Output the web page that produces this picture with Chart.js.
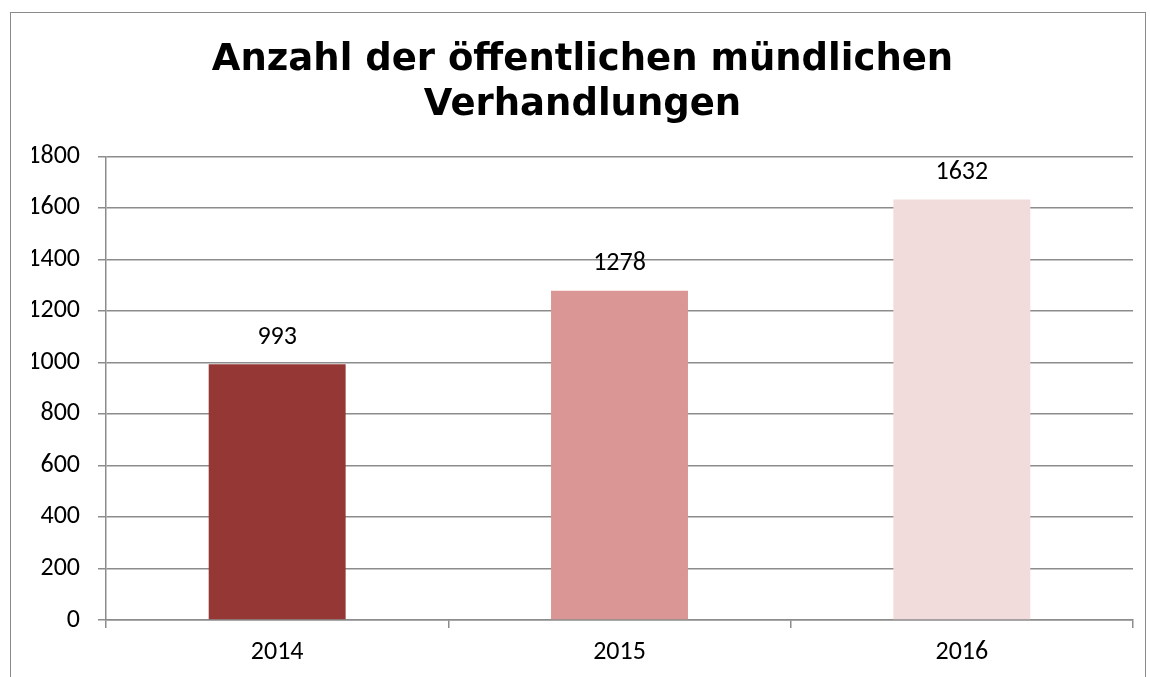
<!DOCTYPE html>
<html>
<head>
<meta charset="utf-8">
<script src="https://cdn.jsdelivr.net/npm/chart.js@4/dist/chart.umd.min.js"></script>
<style>
  html, body { margin: 0; padding: 0; background: #fff; overflow: hidden; }
  #wrap { position: relative; width: 1150px; height: 677px; }
  #frame { position: absolute; left: 10px; top: 12px; width: 1136px; height: 700px;
           border: 1.5px solid #8a8a8a; box-sizing: border-box; pointer-events: none; }
  canvas { position: absolute; left: 0; top: 0; }
</style>
</head>
<body>
<div id="wrap">
  <canvas id="c" width="1150" height="677"></canvas>
  <div id="frame"></div>
</div>
<script>
const categories = ['2014', '2015', '2016'];
const values = [993, 1278, 1632];
const barColors = ['#953735', '#D99694', '#F2DCDB'];
const titleLines = ['Anzahl der öffentlichen mündlichen', 'Verhandlungen'];

const fontFamily = 'Carlito, Lato, "Open Sans", sans-serif';
const tickFont = { family: fontFamily, size: 26 };
const gridColor = '#8c8c8c';

const valueLabels = {
  id: 'valueLabels',
  afterDatasetsDraw(chart) {
    const ctx = chart.ctx;
    const meta = chart.getDatasetMeta(0);
    ctx.save();
    ctx.font = '26px ' + fontFamily;
    ctx.fillStyle = '#000';
    ctx.textAlign = 'center';
    ctx.textBaseline = 'middle';
    meta.data.forEach((bar, i) => {
      ctx.fillText(String(chart.data.datasets[0].data[i]), bar.x, bar.y - 27);
    });
    ctx.restore();
  }
};

new Chart(document.getElementById('c'), {
  type: 'bar',
  data: {
    labels: categories,
    datasets: [{
      data: values,
      backgroundColor: barColors,
      borderWidth: 0,
      barPercentage: 0.4,
      categoryPercentage: 1.0
    }]
  },
  options: {
    responsive: false,
    animation: false,
    devicePixelRatio: 1,
    layout: { padding: { left: 32, right: 17, top: 0, bottom: 0 } },
    plugins: {
      legend: { display: false },
      tooltip: { enabled: false },
      title: {
        display: true,
        text: titleLines,
        color: '#000',
        font: { family: '"DejaVu Sans", Verdana, sans-serif', size: 37, weight: 'bold', lineHeight: 1.22 },
        padding: { top: 38, bottom: 28 }
      }
    },
    scales: {
      x: {
        offset: true,
        grid: { display: true, drawOnChartArea: false, offset: true, tickLength: 8, color: gridColor, lineWidth: 1.5 },
        border: { display: true, color: gridColor, width: 1.5 },
        ticks: { font: tickFont, color: '#000', padding: 9 },
        afterFit(s) { s.height = 57; }
      },
      y: {
        min: 0, max: 1800,
        ticks: { stepSize: 200, font: tickFont, color: '#000', padding: 18,
                 callback: (v) => String(v) },
        grid: { color: gridColor, lineWidth: 1.5, tickLength: 8 },
        border: { display: true, color: gridColor, width: 1.5 },
        afterFit(s) { s.width = 74; }
      }
    }
  },
  plugins: [valueLabels]
});
</script>
</body>
</html>
